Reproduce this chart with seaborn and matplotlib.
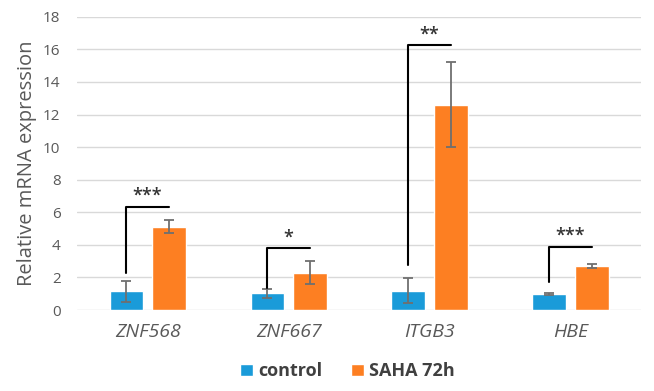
import matplotlib
matplotlib.use("Agg")
import matplotlib.pyplot as plt
import pandas as pd
import seaborn as sns

# data
genes = ["ZNF568", "ZNF667", "ITGB3", "HBE"]
groups = ["control", "SAHA 72h"]
control_mean = [1.15, 1.02, 1.2, 1.0]
control_err = [0.65, 0.25, 0.78, 0.05]
saha_mean = [5.1, 2.3, 12.6, 2.7]
saha_err = [0.4, 0.7, 2.6, 0.12]

# significance brackets
bracket_top = [6.35, 3.8, 16.25, 3.9]
bracket_low = [2.25, 1.35, 2.75, 1.7]
stars = ["***", "*", "**", "***"]

colors = ["#1a9bd9", "#fd7f22"]

df = pd.DataFrame({
    "gene": genes * 2,
    "group": [groups[0]] * 4 + [groups[1]] * 4,
    "value": control_mean + saha_mean,
    "err": control_err + saha_err,
})

sns.set_theme(style="white")
plt.rcParams["font.family"] = ["Open Sans", "DejaVu Sans"]

fig = plt.figure(figsize=(6.54, 3.91), dpi=100)
ax = fig.add_axes([0.118, 0.207, 0.862, 0.75])

sns.barplot(data=df, x="gene", y="value", hue="group", order=genes,
            hue_order=groups, palette=colors, width=0.6, gap=0.2,
            errorbar=None, saturation=1, ax=ax, legend=True)

# error bars placed at the bar centres
centers = {}
for cont, g in zip(ax.containers, groups):
    sub = df[df["group"] == g].set_index("gene").loc[genes]
    xs = [p.get_x() + p.get_width() / 2 for p in cont.patches]
    centers[g] = xs
    ax.errorbar(xs, sub["value"], yerr=sub["err"], fmt="none",
                ecolor="#6f6f6f", elinewidth=1.3, capsize=3.5, capthick=1.3,
                zorder=3)

for i in range(len(genes)):
    x0 = centers["control"][i]
    x1 = centers["SAHA 72h"][i]
    ax.plot([x0, x0, x1], [bracket_low[i], bracket_top[i], bracket_top[i]],
            color="black", lw=1.5, zorder=4)
    ax.text((x0 + x1) / 2, bracket_top[i] + 0.1, stars[i], ha="center",
            va="bottom", fontsize=13, fontweight="semibold", color="#333333")

ax.set_ylim(0, 18)
ax.set_yticks(range(0, 19, 2))
ax.set_xlim(-0.5, 3.5)
ax.yaxis.grid(True, color="#d9d9d9", lw=1)
ax.set_axisbelow(True)
for s in ax.spines.values():
    s.set_visible(False)
ax.tick_params(axis="y", labelsize=11, labelcolor="#595959", length=0, pad=12)
ax.tick_params(axis="x", labelsize=14, labelcolor="#595959", length=0, pad=9)
for lbl in ax.get_xticklabels():
    lbl.set_style("italic")
ax.set_xlabel("")
ax.set_ylabel("Relative mRNA expression", fontsize=14.5, color="#595959", labelpad=4)

ax.legend(loc="upper center", bbox_to_anchor=(0.48, -0.135), ncol=2, frameon=False,
          handlelength=0.7, handleheight=0.7, handletextpad=0.3,
          columnspacing=1.6, prop={"size": 13, "weight": "bold"},
          labelcolor="#404040", borderpad=0.2)

fig.savefig("out.png", dpi=100)
